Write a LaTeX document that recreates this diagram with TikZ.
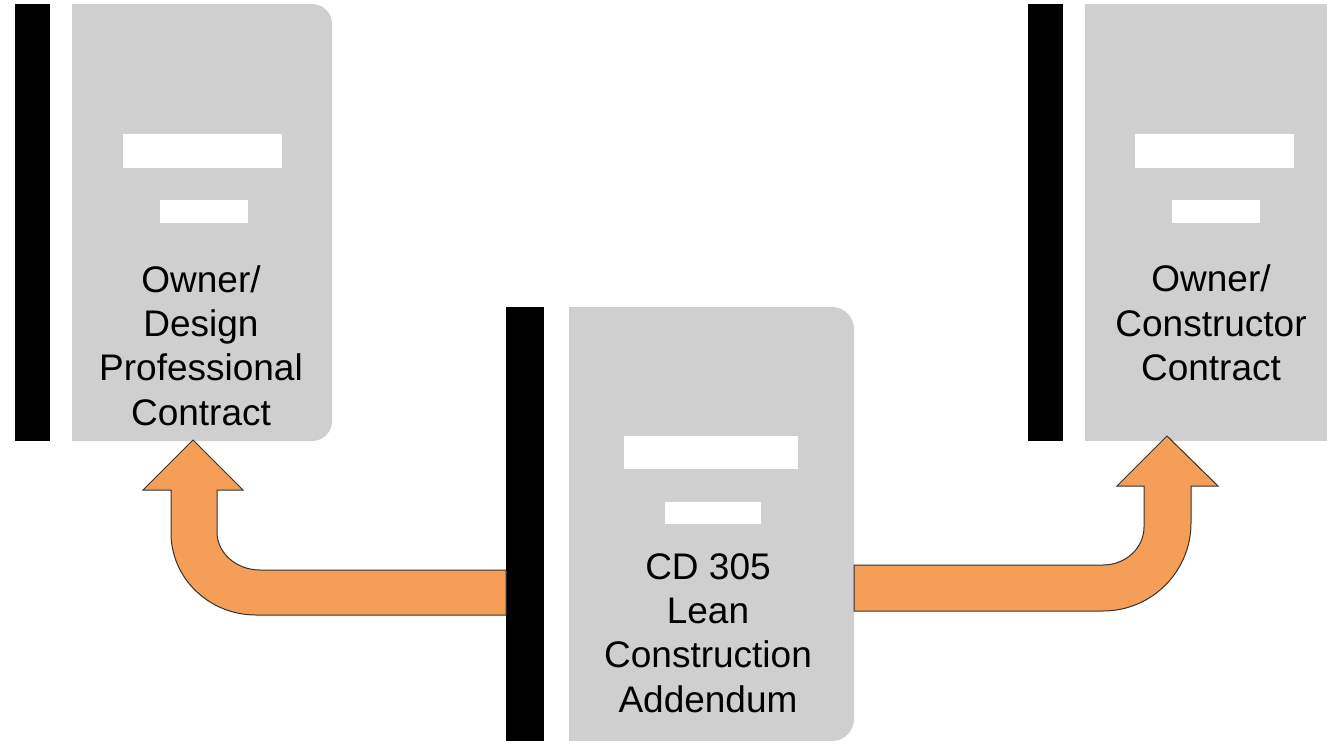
\documentclass[tikz,border=0pt]{standalone}
\usepackage{fontspec}
\setmainfont{Liberation Sans}
\definecolor{docgray}{RGB}{207,207,207}
\definecolor{arroworange}{RGB}{245,158,87}
\tikzset{
  docbody/.style={fill=docgray, draw=none},
  docspine/.style={fill=black, draw=none},
  docbar/.style={fill=white, draw=none},
  doclabel/.style={align=center, font=\fontsize{37}{44.4}\selectfont, text=black, inner sep=0pt},
  bentarrow/.style={fill=arroworange, draw=black!80, line width=1pt, line join=miter}
}
\begin{document}
\begin{tikzpicture}[x=1pt, y=-1pt]
  \useasboundingbox (0,0) rectangle (1327,741);
  % left document
  \fill[docspine] (15,4) rectangle (50,441);
  \fill[docbody] (72,4) -- (312,4) arc[start angle=90, end angle=0, x radius=20, y radius=-20] -- (332,421) arc[start angle=0, end angle=-90, x radius=20, y radius=-20] -- (72,441) -- cycle;
  \fill[docbar] (123,134) rectangle (282,168);
  \fill[docbar] (160,200) rectangle (248,223);
  \node[doclabel] (ownerdesign) at (201,345.5) {Owner/\\Design\\Professional\\Contract};
  % right document
  \fill[docspine] (1028,4) rectangle (1063,441);
  \fill[docbody] (1085,4) rectangle (1327,441);
  \fill[docbar] (1135,134) rectangle (1294,168);
  \fill[docbar] (1172,200) rectangle (1260,223);
  \node[doclabel] (ownerconstructor) at (1211,323) {Owner/\\Constructor\\Contract};
  % middle document
  \fill[docspine] (506,307) rectangle (544,741);
  \fill[docbody] (569,307) -- (832,307) arc[start angle=90, end angle=0, x radius=22, y radius=-22] -- (854,719) arc[start angle=0, end angle=-90, x radius=22, y radius=-22] -- (569,741) -- cycle;
  \fill[docbar] (624,436) rectangle (798,469);
  \fill[docbar] (665,502) rectangle (761,524);
  \node[doclabel] (addendum) at (708,633) {CD 305\\Lean\\Construction\\Addendum};
  % arrows
  \draw[bentarrow] (506,570) -- (260,570) arc[start angle=-90, end angle=-180, x radius=43, y radius=-38] -- (217,490) -- (243,490) -- (193,440) -- (143,490) -- (171,490) -- (171,533) arc[start angle=180, end angle=270, x radius=85, y radius=-82] -- (506,615) -- cycle;
  \draw[bentarrow] (854,565) -- (1103,565) arc[start angle=-90, end angle=0, x radius=41, y radius=-38] -- (1144,486) -- (1117,486) -- (1167,436) -- (1218,486) -- (1191,486) -- (1191,523) arc[start angle=0, end angle=-90, x radius=88, y radius=-88] -- (854,611) -- cycle;
\end{tikzpicture}
\end{document}
